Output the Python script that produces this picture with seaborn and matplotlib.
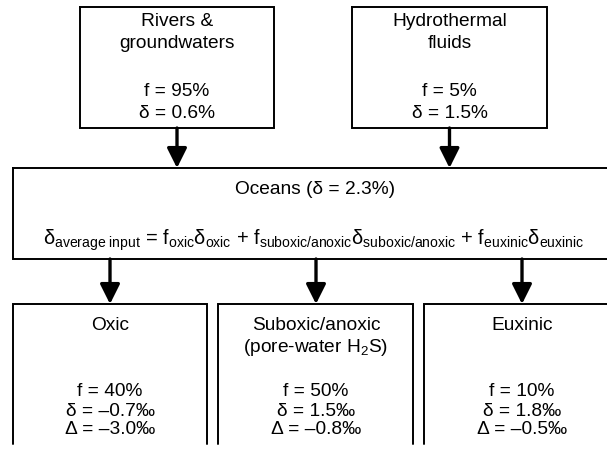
import matplotlib
matplotlib.use('Agg')
import matplotlib.pyplot as plt
import seaborn as sns
from matplotlib.patches import FancyArrowPatch

# ---- diagram content ----
source_names = ['Rivers &\ngroundwaters', 'Hydrothermal\nfluids']
source_f = ['95%', '5%']
source_delta = ['0.6%', '1.5%']

ocean_delta = '2.3%'

sink_names = ['Oxic', 'Suboxic/anoxic\n(pore-water H$_2$S)', 'Euxinic']
sink_f = ['40%', '50%', '10%']
sink_delta = ['\u20130.7\u2030', '1.5\u2030', '1.8\u2030']
sink_Delta = ['\u20133.0\u2030', '\u20130.8\u2030', '\u20130.5\u2030']

# ---- style ----
sns.set_style('white')
plt.rcParams['font.family'] = ['Liberation Sans', 'DejaVu Sans']
plt.rcParams['text.color'] = 'black'
plt.rcParams['mathtext.fontset'] = 'custom'
plt.rcParams['mathtext.rm'] = 'Liberation Sans'
plt.rcParams['mathtext.it'] = 'Liberation Sans:italic'
plt.rcParams['mathtext.bf'] = 'Liberation Sans:bold'

FS = 13.8
LW = 1.4

fig = plt.figure(figsize=(6.07, 4.53), dpi=100)
ax = fig.add_axes([0, 0, 1, 1])
ax.set_xlim(0, 607)
ax.set_ylim(453, 0)
ax.axis('off')


def box(x0, x1, y0, y1, open_bottom=False):
    if open_bottom:
        ax.plot([x0, x0, x1, x1], [y1, y0, y0, y1], color='black', lw=LW,
                solid_joinstyle='miter', clip_on=False)
    else:
        ax.plot([x0, x1, x1, x0, x0], [y0, y0, y1, y1, y0], color='black', lw=LW,
                solid_joinstyle='miter', clip_on=False)


def arrow(x, y0, y1):
    a = FancyArrowPatch((x, y0), (x, y1),
                        arrowstyle='-|>,head_length=12,head_width=6',
                        mutation_scale=1, lw=2.4, color='black',
                        shrinkA=0, shrinkB=0)
    ax.add_patch(a)


def label(x, y, s, fs=FS):
    ax.text(x, y, s, ha='center', va='center', fontsize=fs, color='black')


# source boxes
src_x = [(80, 274), (352, 547)]
for (x0, x1), name, f, d in zip(src_x, source_names, source_f, source_delta):
    box(x0, x1, 7, 128)
    cx = (x0 + x1) / 2
    lines = name.split('\n')
    label(cx, 21, lines[0])
    label(cx, 44, lines[1])
    label(cx, 91, f'f = {f}')
    label(cx, 113, f'\u03b4 = {d}')
    arrow(cx, 128, 168)

# ocean box
box(13, 640, 168, 259)
label(315, 189, f'Oceans (\u03b4 = {ocean_delta})')
formula = (r'$\mathrm{δ}_{\mathrm{average\ input}}$ = f$_{\mathrm{oxic}}\mathrm{δ}_{\mathrm{oxic}}$'
           r' + f$_{\mathrm{suboxic/anoxic}}\mathrm{δ}_{\mathrm{suboxic/anoxic}}$'
           r' + f$_{\mathrm{euxinic}}\mathrm{δ}_{\mathrm{euxinic}}$')
label(314, 240, formula, fs=14.4)

# sink boxes
sink_x = [(13, 207), (218, 413), (424, 640)]
arrow_x = [110, 316, 522]
for (x0, x1), cx, name, f, d, D in zip(sink_x, arrow_x, sink_names, sink_f, sink_delta, sink_Delta):
    box(x0, x1, 304, 444, open_bottom=True)
    arrow(cx, 259, 304)
    lines = name.split('\n')
    label(cx, 325, lines[0])
    if len(lines) > 1:
        label(cx, 347, lines[1])
    label(cx, 391, f'f = {f}')
    label(cx, 411, f'\u03b4 = {d}')
    label(cx, 429, f'\u0394 = {D}')

fig.savefig('out.png', dpi=100)
